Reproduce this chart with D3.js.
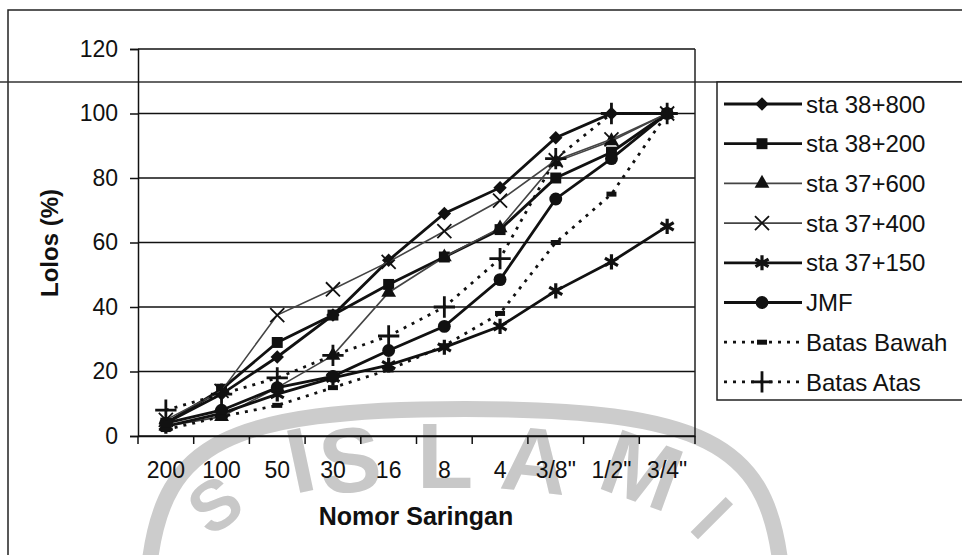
<!DOCTYPE html>
<html>
<head>
<meta charset="utf-8">
<script src="https://cdn.jsdelivr.net/npm/d3@7"></script>
<style>
  body { margin: 0; background: #fff; }
  svg { display: block; font-family: "Liberation Sans", Arial, sans-serif; }
</style>
</head>
<body>
<div id="chart-area"></div>
<script>
// sieve numbers (x categories)
var saringan = ["200", "100", "50", "30", "16", "8", "4", "3/8\"", "1/2\"", "3/4\""];

// percent passing per series
var sta38800 = [4, 13, 24.5, 37.5, 54.5, 69, 77, 92.5, 100, 100];
var sta38200 = [4, 14.5, 29, 37.5, 47, 55.5, 64, 80, 88, 100];
var sta37600 = [3, 6, 15, 25, 44.5, 55.5, 64.5, 85, 91.5, 100];
var sta37400 = [5, 14, 37.5, 45.5, 54, 63.5, 73, 85.5, 92, 100];
var sta37150 = [3, 7, 13, 18, 22, 27.5, 34, 45, 54, 65];
var jmf = [4, 8, 15, 18.5, 26.5, 34, 48.5, 73.5, 86, 100];
var batasBawah = [2, 6, 9.5, 15, 20.5, 28, 38, 60, 75, 100];
var batasAtas = [8, 13, 18, 25, 31, 40, 55, 86, 100, 100];

var yTicks = [0, 20, 40, 60, 80, 100, 120];

var series = [
  { name: "sta 38+800", values: sta38800, marker: "diamond", thin: false, dotted: false },
  { name: "sta 38+200", values: sta38200, marker: "square", thin: false, dotted: false },
  { name: "sta 37+600", values: sta37600, marker: "triangle", thin: true, dotted: false },
  { name: "sta 37+400", values: sta37400, marker: "times", thin: true, dotted: false },
  { name: "sta 37+150", values: sta37150, marker: "asterisk", thin: false, dotted: false },
  { name: "JMF", values: jmf, marker: "circle", thin: false, dotted: false },
  { name: "Batas Bawah", values: batasBawah, marker: "dash", thin: false, dotted: true },
  { name: "Batas Atas", values: batasAtas, marker: "plus", thin: false, dotted: true }
];

var W = 962, H = 555;
var svg = d3.select("#chart-area").append("svg")
  .attr("width", W)
  .attr("height", H);

// grey watermark from the scanned page (ring + letters)
var wm = svg.append("g").attr("fill", "#c8c8c8").attr("font-weight", "bold");
wm.append("path")
  .attr("d", "M150,560 C165,445 225,409 465,409 C705,409 765,445 780,560")
  .attr("fill", "none").attr("stroke", "#cccccc").attr("stroke-width", 16);
var wmLetters = [
  { t: "I", x: 300, y: 460, r: -12, s: 92 },
  { t: "S", x: 350, y: 460, r: -6, s: 92 },
  { t: "L", x: 445, y: 456, r: 0, s: 92 },
  { t: "A", x: 535, y: 460, r: 6, s: 92 },
  { t: "M", x: 642, y: 470, r: 20, s: 92 },
  { t: "S", x: 215, y: 505, r: -35, s: 70 },
  { t: "I", x: 712, y: 518, r: 45, s: 72 }
];
wm.selectAll("text").data(wmLetters).enter().append("text")
  .attr("transform", function(d) { return "translate(" + d.x + "," + d.y + ") rotate(" + d.r + ")"; })
  .attr("text-anchor", "middle")
  .attr("dominant-baseline", "central")
  .attr("font-size", function(d) { return d.s; })
  .text(function(d) { return d.t; });

// page frame and scan line
svg.append("path")
  .attr("d", "M8,555 L8,10 L962,10")
  .attr("fill", "none").attr("stroke", "#222").attr("stroke-width", 1.5);
svg.append("line")
  .attr("x1", 0).attr("x2", W).attr("y1", 82).attr("y2", 82)
  .attr("stroke", "#333").attr("stroke-width", 1.5);

var x = d3.scaleBand().domain(saringan).range([138, 695]).padding(0);
var y = d3.scaleLinear().domain([0, 120]).range([436, 49]);

// gridlines
svg.append("g").selectAll("line").data(yTicks).enter().append("line")
  .attr("x1", 138).attr("x2", 695)
  .attr("y1", function(d) { return y(d); })
  .attr("y2", function(d) { return y(d); })
  .attr("stroke", "#111").attr("stroke-width", 1.5);
svg.append("line")
  .attr("x1", 695).attr("x2", 695).attr("y1", y(120)).attr("y2", y(0))
  .attr("stroke", "#222").attr("stroke-width", 1.5);

// y axis
var yAxis = svg.append("g")
  .attr("transform", "translate(138,0)")
  .call(d3.axisLeft(y).tickValues(yTicks).tickSize(8).tickPadding(12));
yAxis.selectAll("text").attr("font-size", 23).attr("fill", "#111").attr("font-family", "Liberation Sans, Arial");
yAxis.selectAll("line, path").attr("stroke", "#111").attr("stroke-width", 1.5);

// x axis with ticks on the band edges
var xAxis = svg.append("g")
  .attr("transform", "translate(0,436)")
  .call(d3.axisBottom(x).tickSize(0).tickPadding(26));
xAxis.selectAll("text").attr("font-size", 23).attr("fill", "#111").attr("font-family", "Liberation Sans, Arial");
xAxis.select(".domain").attr("stroke", "#111").attr("stroke-width", 1.5);
xAxis.selectAll(".edge").data(saringan.concat(["end"])).enter().append("line")
  .attr("class", "edge")
  .attr("x1", function(d, i) { return 138 + i * x.bandwidth(); })
  .attr("x2", function(d, i) { return 138 + i * x.bandwidth(); })
  .attr("y1", 0).attr("y2", 8)
  .attr("stroke", "#111").attr("stroke-width", 1.5);

// axis titles
svg.append("text")
  .attr("x", 416).attr("y", 525)
  .attr("text-anchor", "middle")
  .attr("font-size", 25).attr("font-weight", "bold").attr("fill", "#111")
  .text("Nomor Saringan");
svg.append("text")
  .attr("transform", "translate(58,243) rotate(-90)")
  .attr("text-anchor", "middle")
  .attr("font-size", 24).attr("font-weight", "bold").attr("fill", "#111")
  .text("Lolos (%)");

function lineStyle(sel, s) {
  sel.attr("fill", "none")
    .attr("stroke", s.thin ? "#444" : "#111")
    .attr("stroke-width", s.thin ? 1.6 : 2.8)
    .attr("stroke-dasharray", s.dotted ? "3,6" : null);
}

function drawMarker(g, kind) {
  var sym = d3.symbol();
  if (kind === "diamond") {
    g.append("path").attr("d", sym.type(d3.symbolSquare).size(90)()).attr("transform", "rotate(45)").attr("fill", "#111");
  } else if (kind === "square") {
    g.append("path").attr("d", sym.type(d3.symbolSquare).size(120)()).attr("fill", "#111");
  } else if (kind === "triangle") {
    g.append("path").attr("d", sym.type(d3.symbolTriangle).size(95)()).attr("fill", "#111");
  } else if (kind === "circle") {
    g.append("path").attr("d", sym.type(d3.symbolCircle).size(130)()).attr("fill", "#111");
  } else if (kind === "times") {
    g.append("path").attr("d", sym.type(d3.symbolTimes).size(130)()).attr("fill", "none").attr("stroke", "#111").attr("stroke-width", 1.8);
  } else if (kind === "asterisk") {
    g.append("path").attr("d", sym.type(d3.symbolAsterisk).size(160)()).attr("fill", "none").attr("stroke", "#111").attr("stroke-width", 3.2);
  } else if (kind === "plus") {
    g.append("path").attr("d", sym.type(d3.symbolPlus).size(150)()).attr("fill", "none").attr("stroke", "#111").attr("stroke-width", 2.8);
  } else if (kind === "dash") {
    g.append("rect").attr("x", -5).attr("y", -2.5).attr("width", 10).attr("height", 5).attr("fill", "#111");
  }
}

var line = d3.line()
  .x(function(d, i) { return x(saringan[i]) + x.bandwidth() / 2; })
  .y(function(d) { return y(d); });

series.forEach(function(s) {
  var g = svg.append("g");
  g.append("path").attr("d", line(s.values)).call(lineStyle, s);
  s.values.forEach(function(v, i) {
    var m = g.append("g")
      .attr("transform", "translate(" + (x(saringan[i]) + x.bandwidth() / 2) + "," + y(v) + ")");
    drawMarker(m, s.marker);
  });
});

// legend
var legend = svg.append("g");
legend.append("rect")
  .attr("x", 717).attr("y", 82).attr("width", 260).attr("height", 318)
  .attr("fill", "#fff").attr("stroke", "#222").attr("stroke-width", 1.5);
var leg = legend.selectAll(".item").data(series).enter().append("g")
  .attr("class", "item")
  .attr("transform", function(d, i) { return "translate(0," + (104 + i * 39.7) + ")"; });
leg.each(function(s) {
  var g = d3.select(this);
  g.append("line").attr("x1", 724).attr("x2", 802).attr("y1", 0).attr("y2", 0).call(lineStyle, s);
  var m = g.append("g").attr("transform", "translate(762,0)");
  drawMarker(m, s.marker);
  g.append("text")
    .attr("x", 806).attr("y", 0).attr("dy", "0.36em")
    .attr("font-size", 24).attr("fill", "#111")
    .text(s.name);
});
</script>
</body>
</html>
